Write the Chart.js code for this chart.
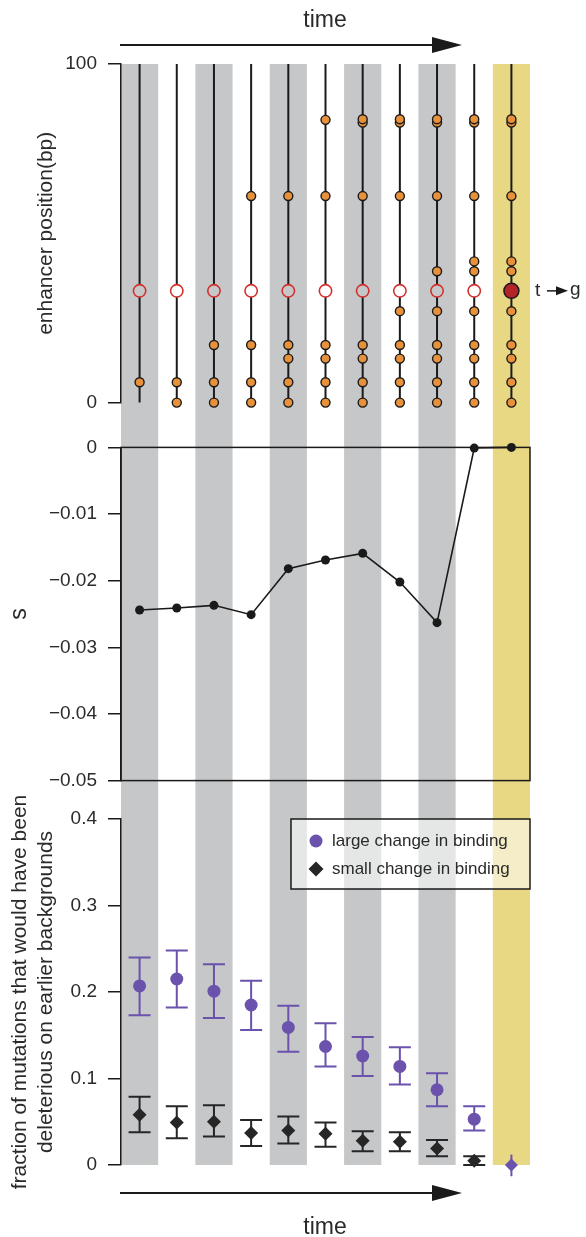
<!DOCTYPE html>
<html><head><meta charset="utf-8">
<script src="https://cdn.jsdelivr.net/npm/chart.js@4.4.1/dist/chart.umd.min.js"></script>
<style>
html,body{margin:0;padding:0;background:#fff;}
#wrap{position:relative;width:586px;height:1237px;overflow:hidden;background:#fff;}
canvas{position:absolute;left:0;}
</style></head><body>
<div id="wrap">
<canvas id="cA" width="586" height="425" style="top:0px"></canvas>
<canvas id="cB" width="586" height="378" style="top:425px"></canvas>
<canvas id="cC" width="586" height="467" style="top:770px"></canvas>
</div>
<script>
// ---------------- data ----------------
const steps = ['1','2','3','4','5','6','7','8','9','10','11'];
// positions (bp) of the substitutions present at each step
const mutationPositions = [
  [6],
  [0, 6],
  [0, 6, 17],
  [0, 6, 17, 61],
  [0, 6, 13, 17, 61],
  [0, 6, 13, 17, 61, 83.5],
  [0, 6, 13, 17, 61, 82.7, 83.7],
  [0, 6, 13, 17, 27, 61, 82.7, 83.7],
  [0, 6, 13, 17, 27, 38.8, 61, 82.7, 83.7],
  [0, 6, 13, 17, 27, 38.8, 41.7, 61, 82.7, 83.7],
  [0, 6, 13, 17, 27, 38.8, 41.7, 61, 82.7, 83.7]
];
const focalPosition = 33;      // the t -> g site
const enhancerLength = 100;
const topTicks = [0, 100];
const selectionCoef = [-0.0244, -0.0241, -0.0237, -0.0251, -0.0182, -0.0169, -0.0159, -0.0202, -0.0263, -0.0001, 0];
const largeChange = [0.207, 0.215, 0.201, 0.185, 0.159, 0.137, 0.126, 0.114, 0.087, 0.053, 0];
const largeLow    = [0.173, 0.182, 0.170, 0.156, 0.131, 0.114, 0.103, 0.093, 0.068, 0.040, -0.013];
const largeHigh   = [0.240, 0.248, 0.232, 0.213, 0.184, 0.164, 0.148, 0.136, 0.106, 0.068, 0.012];
const smallChange = [0.058, 0.049, 0.050, 0.037, 0.040, 0.036, 0.028, 0.027, 0.019, 0.005, null];
const smallLow    = [0.038, 0.031, 0.033, 0.022, 0.025, 0.021, 0.016, 0.016, 0.010, 0.000, null];
const smallHigh   = [0.079, 0.068, 0.069, 0.052, 0.056, 0.049, 0.039, 0.038, 0.029, 0.010, null];
const seriesNames = ['large change in binding', 'small change in binding'];

// ---------------- styles ----------------
const FONT = '"Liberation Sans", Arial, Helvetica, sans-serif';
const INK = '#1a1a1a';
const TXT = '#2a2a2a';
const GRAY = '#c5c7c8', YELLOW = '#e8d884';
const bandColors = [GRAY, null, GRAY, null, GRAY, null, GRAY, null, GRAY, null, YELLOW];
const ORANGE = '#e8913b', RED = '#d42f2f', DARKRED = '#b3232a', PURPLE = '#6a52ad', DARK = '#262626';

Chart.defaults.font.family = FONT;
Chart.defaults.color = TXT;
Chart.defaults.animation = false;

function bandPlugin(range) {
  return { id: 'bands', beforeDraw(chart) {
    const xs = chart.scales.x, ctx = chart.ctx;
    const w = xs.getPixelForValue(1) - xs.getPixelForValue(0);
    const [y0, y1] = range(chart);
    ctx.save();
    steps.forEach((s, i) => {
      const c = bandColors[i]; if (!c) return;
      const cx = xs.getPixelForValue(i);
      ctx.fillStyle = c;
      ctx.fillRect(cx - w / 2, y0, w, y1 - y0);
    });
    ctx.restore();
  }};
}
function arrow(ctx, x0, x1, y) {
  ctx.save();
  ctx.strokeStyle = INK; ctx.fillStyle = INK; ctx.lineWidth = 2;
  ctx.beginPath(); ctx.moveTo(x0, y); ctx.lineTo(x1 - 28, y); ctx.stroke();
  ctx.beginPath(); ctx.moveTo(x1 - 30, y - 8); ctx.lineTo(x1, y); ctx.lineTo(x1 - 30, y + 8); ctx.closePath(); ctx.fill();
  ctx.restore();
}
function yAxis(extra) {
  return Object.assign({
    position: 'left',
    border: { display: true, color: INK, width: 1.5 },
    grid: { drawOnChartArea: false, drawTicks: true, tickLength: 13, color: INK, lineWidth: 1.5 },
    ticks: { padding: 11, color: TXT, font: { size: 19, family: FONT } },
    afterFit(scale) { scale.width = 121; }
  }, extra);
}
const xAxis = { type: 'category', labels: steps, offset: true, display: false };
const common = { responsive: false, devicePixelRatio: 1, animation: false,
  plugins: { legend: { display: false }, tooltip: { enabled: false } } };

// ---------------- top panel ----------------
const stemSets = steps.map((s) => ({
  data: [{ x: s, y: 0 }, { x: s, y: enhancerLength }],
  borderColor: INK, borderWidth: 2, pointRadius: 0, order: 5, clip: false
}));
const hollowSteps = steps.slice(0, 10);
new Chart(document.getElementById('cA'), {
  type: 'line',
  data: { labels: steps, datasets: [
    { data: [{ x: steps[10], y: focalPosition }], showLine: false, pointRadius: 7.5,
      pointBackgroundColor: DARKRED, pointBorderColor: INK, pointBorderWidth: 1.5, order: 0, clip: false },
    { data: mutationPositions.flatMap((arr, i) => arr.map(v => ({ x: steps[i], y: v }))), showLine: false,
      pointRadius: 4.5, pointBackgroundColor: ORANGE, pointBorderColor: INK, pointBorderWidth: 1.4, order: 1, clip: false },
    { data: hollowSteps.map(s => ({ x: s, y: focalPosition })), showLine: false, pointRadius: 6.2,
      pointBackgroundColor: hollowSteps.map((s, i) => bandColors[i] || '#ffffff'),
      pointBorderColor: RED, pointBorderWidth: 1.6, order: 2, clip: false },
    ...stemSets
  ]},
  options: Object.assign({}, common, {
    layout: { padding: { top: 64, bottom: 16, left: 0, right: 56 } },
    scales: {
      x: xAxis,
      y: yAxis({ min: 0, max: enhancerLength,
        afterBuildTicks(scale) { scale.ticks = topTicks.map(v => ({ value: v })); },
        title: { display: true, text: 'enhancer position(bp)', color: TXT, font: { size: 21, family: FONT }, padding: { top: 34 } } })
    }
  }),
  plugins: [bandPlugin(ch => [ch.chartArea.top, ch.height]), { id: 'deco', afterDraw(chart) {
    const ctx = chart.ctx;
    arrow(ctx, 120, 462, 45);
    ctx.save();
    ctx.fillStyle = TXT; ctx.font = '23px ' + FONT; ctx.textAlign = 'center'; ctx.textBaseline = 'alphabetic';
    ctx.fillText('time', 325, 27);
    const y = chart.scales.y.getPixelForValue(focalPosition);
    ctx.font = '19px ' + FONT; ctx.textAlign = 'left'; ctx.textBaseline = 'middle';
    ctx.fillText('t', 535, y);
    ctx.fillText('g', 570, y - 1);
    ctx.strokeStyle = INK; ctx.fillStyle = INK; ctx.lineWidth = 1.5;
    ctx.beginPath(); ctx.moveTo(547, y); ctx.lineTo(558, y); ctx.stroke();
    ctx.beginPath(); ctx.moveTo(556, y - 4.5); ctx.lineTo(568, y); ctx.lineTo(556, y + 4.5); ctx.closePath(); ctx.fill();
    ctx.restore();
  }}]
});

// ---------------- middle panel ----------------
new Chart(document.getElementById('cB'), {
  type: 'line',
  data: { labels: steps, datasets: [
    { data: selectionCoef, borderColor: INK, borderWidth: 1.6, pointRadius: 4.5,
      pointBackgroundColor: INK, pointBorderColor: INK, pointBorderWidth: 0, clip: false, tension: 0 }
  ]},
  options: Object.assign({}, common, {
    layout: { padding: { top: 17, bottom: 15, left: 0, right: 56 } },
    scales: {
      x: xAxis,
      y: yAxis({ min: -0.05, max: 0,
        ticks: { stepSize: 0.01, padding: 11, color: TXT, font: { size: 19, family: FONT },
          callback: v => Math.abs(v) < 1e-9 ? '0' : '\u2212' + Math.abs(v).toFixed(2) },
        title: { display: true, text: 's', color: TXT, font: { size: 23, family: FONT }, padding: { top: 6 } } })
    }
  }),
  plugins: [bandPlugin(ch => [0, ch.height]), { id: 'box', beforeDatasetsDraw(chart) {
    const a = chart.chartArea, ctx = chart.ctx;
    ctx.save(); ctx.strokeStyle = INK; ctx.lineWidth = 1.5;
    ctx.strokeRect(a.left, a.top, a.right - a.left, a.bottom - a.top);
    ctx.restore();
  }}]
});

// ---------------- bottom panel ----------------
function errBars(chart, low, high, color) {
  const xs = chart.scales.x, ys = chart.scales.y, ctx = chart.ctx;
  ctx.save(); ctx.strokeStyle = color; ctx.lineWidth = 2;
  low.forEach((lo, i) => {
    if (lo === null || high[i] === null) return;
    const x = xs.getPixelForValue(i), y0 = ys.getPixelForValue(lo), y1 = ys.getPixelForValue(high[i]);
    ctx.beginPath(); ctx.moveTo(x, y0); ctx.lineTo(x, y1);
    if (i < steps.length - 1) {
      ctx.moveTo(x - 11, y0); ctx.lineTo(x + 11, y0);
      ctx.moveTo(x - 11, y1); ctx.lineTo(x + 11, y1);
    }
    ctx.stroke();
  });
  ctx.restore();
}
new Chart(document.getElementById('cC'), {
  type: 'line',
  data: { labels: steps, datasets: [
    { label: seriesNames[0], data: largeChange, showLine: false, pointRadius: 6.5,
      pointStyle: steps.map((s, i) => i === steps.length - 1 ? 'rectRot' : 'circle'),
      pointBackgroundColor: PURPLE, pointBorderWidth: 0, borderColor: PURPLE, clip: false, order: 0 },
    { label: seriesNames[1], data: smallChange, showLine: false, pointRadius: 7, pointStyle: 'rectRot',
      pointBackgroundColor: DARK, pointBorderWidth: 0, borderColor: DARK, clip: false, order: 1 }
  ]},
  options: Object.assign({}, common, {
    layout: { padding: { top: 49, bottom: 72, left: 0, right: 56 } },
    scales: {
      x: xAxis,
      y: yAxis({ min: 0, max: 0.4, ticks: { stepSize: 0.1, padding: 11, color: TXT, font: { size: 19, family: FONT } },
        title: { display: true, text: ['fraction of mutations that would have been', 'deleterious on earlier backgrounds'],
          color: TXT, font: { size: 21, family: FONT, lineHeight: 1.2 }, padding: { top: 8 } } })
    }
  }),
  plugins: [bandPlugin(ch => [ch.chartArea.top - 16, ch.chartArea.bottom]), { id: 'err', beforeDatasetsDraw(chart) {
    errBars(chart, smallLow, smallHigh, DARK);
    errBars(chart, largeLow, largeHigh, PURPLE);
  }, afterDraw(chart) {
    const ctx = chart.ctx, a = chart.chartArea;
    // legend
    const bw = 239, bh = 70, bx = a.right - bw, by = a.top;
    ctx.save();
    ctx.fillStyle = 'rgba(255,255,255,0.55)';
    ctx.fillRect(bx, by, bw, bh);
    ctx.strokeStyle = INK; ctx.lineWidth = 1.5; ctx.strokeRect(bx, by, bw, bh);
    chart.data.datasets.forEach((ds, k) => {
      const cy = by + 22 + k * 28, cx = bx + 25;
      ctx.fillStyle = ds.pointBackgroundColor;
      ctx.beginPath();
      if (k === 0) { ctx.arc(cx, cy, 6.5, 0, Math.PI * 2); }
      else { ctx.moveTo(cx - 7.5, cy); ctx.lineTo(cx, cy - 7.5); ctx.lineTo(cx + 7.5, cy); ctx.lineTo(cx, cy + 7.5); ctx.closePath(); }
      ctx.fill();
      ctx.fillStyle = TXT; ctx.font = '17px ' + FONT; ctx.textAlign = 'left'; ctx.textBaseline = 'middle';
      ctx.fillText(ds.label, bx + 41, cy);
    });
    ctx.restore();
    arrow(ctx, 120, 462, a.bottom + 28);
    ctx.save();
    ctx.fillStyle = TXT; ctx.font = '23px ' + FONT; ctx.textAlign = 'center'; ctx.textBaseline = 'alphabetic';
    ctx.fillText('time', 325, a.bottom + 69);
    ctx.restore();
  }}]
});
</script>
</body></html>
